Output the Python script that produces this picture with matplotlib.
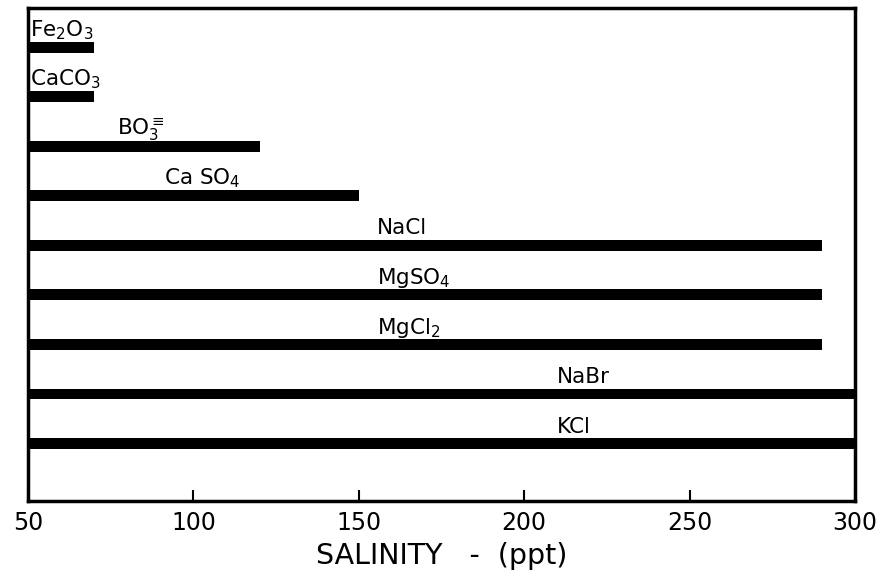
import matplotlib
matplotlib.use("Agg")
import matplotlib.pyplot as plt

plt.rcParams['font.family'] = ['DejaVu Sans']
plt.rcParams['mathtext.fontset'] = 'dejavusans'
plt.rcParams['mathtext.default'] = 'regular'

compounds = [r'Fe$_2$O$_3$', r'CaCO$_3$', r'BO$_3^{\equiv}$', r'Ca SO$_4$', 'NaCl',
             r'MgSO$_4$', r'MgCl$_2$', 'NaBr', 'KCl']
salinity_end = [70, 70, 120, 150, 290, 290, 290, 300, 300]
label_x = [50.6, 50.6, 77, 91, 155.5, 155.5, 155.5, 210, 210]
x_start = 50
x_ticks = [50, 100, 150, 200, 250, 300]

fig = plt.figure(figsize=(8.94, 5.8), dpi=100)
ax = fig.add_axes([28/894, 1-501/580, (855-28)/894, (501-8)/580])

ypos = list(range(len(compounds)))
widths = [e - x_start for e in salinity_end]
ax.barh(ypos, widths, left=x_start, height=0.22, color='black')
for y, lx, lab in zip(ypos, label_x, compounds):
    ax.text(lx, y - 0.22, lab, fontsize=15.5, ha='left', va='baseline', color='black')

ax.set_xlim(50, 300)
ax.set_ylim(9.16, -0.79)
ax.set_xticks(x_ticks)
ax.set_xticklabels([str(t) for t in x_ticks], fontsize=17)
ax.tick_params(axis='x', direction='in', length=8, width=1.5, pad=7)
ax.set_yticks([])
for s in ax.spines.values():
    s.set_linewidth(2.5)
ax.set_xlabel('SALINITY   -  (ppt)', fontsize=20.5, labelpad=5)

fig.savefig('out.png', dpi=100)
